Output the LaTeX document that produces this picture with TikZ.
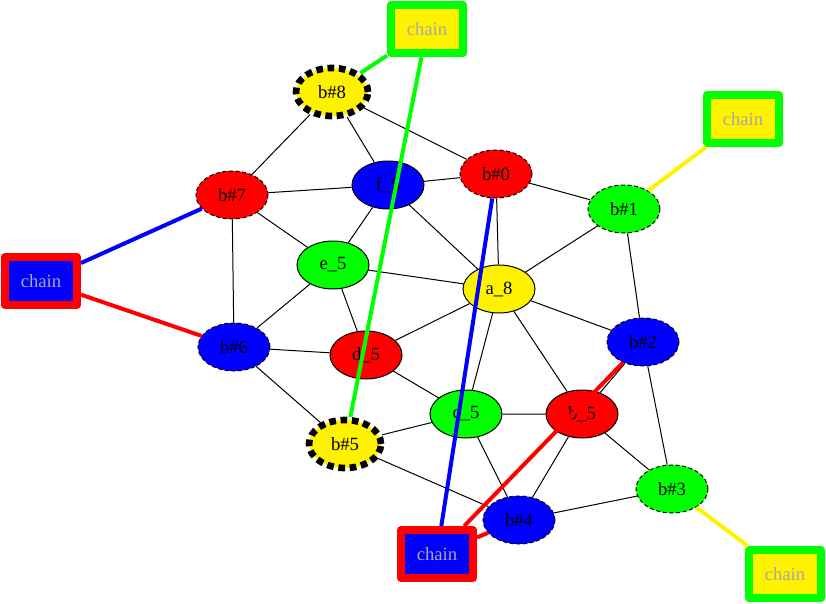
\documentclass[tikz,border=0pt]{standalone}
\usepackage{fontspec}
\setmainfont{Liberation Serif}
\usetikzlibrary{shapes.geometric}
\definecolor{chaintext}{HTML}{A8A8A8}

\begin{document}
\begin{tikzpicture}[x=0.75pt,y=-0.75pt,font=\fontsize{14}{16}\selectfont,
  vtx/.style={ellipse,draw,line width=0.75pt,minimum width=54pt,minimum height=36pt,inner sep=0pt},
  bvtx/.style={vtx,dash pattern=on 3pt off 2pt},
  bigb/.style={vtx,fill=yellow,line width=5pt,dash pattern=on 5pt off 3.5pt},
  chainbox/.style={rectangle,draw,line width=6pt,line join=round,minimum width=54pt,minimum height=36pt,inner sep=0pt,text=chaintext},
  link/.style={line width=0.75pt},
  tie/.style={line width=3pt}]
\useasboundingbox (0,0) rectangle (826,604);
% chain boxes
\node[chainbox,draw=green,fill=yellow] (chT) at (427,29) {chain};
\node[chainbox,draw=green,fill=yellow] (chR) at (743,119) {chain};
\node[chainbox,draw=red,fill=blue] (chL) at (41,281) {chain};
\node[chainbox,draw=red,fill=blue] (chB) at (437,554) {chain};
\node[chainbox,draw=green,fill=yellow] (chBR) at (785,574) {chain};
% b# vertices
\node[bigb] (bh8) at (332,92) {b\#8};
\node[bvtx,fill=red] (bh7) at (232,195) {b\#7};
\node[bvtx,fill=red] (bh0) at (496,174) {b\#0};
\node[bvtx,fill=green] (bh1) at (624,209) {b\#1};
\node[bvtx,fill=blue] (bh6) at (234,347) {b\#6};
\node[bvtx,fill=blue] (bh2) at (643,342) {b\#2};
\node[bigb] (bh5) at (345,444) {b\#5};
\node[bvtx,fill=green] (bh3) at (672,489) {b\#3};
\node[bvtx,fill=blue] (bh4) at (519,520) {b\#4};
% inner vertices
\node[vtx,fill=blue] (f5) at (388,185) {f\_5};
\node[vtx,fill=green] (e5) at (333,265) {e\_5};
\node[vtx,fill=yellow] (a8) at (499,289) {a\_8};
\node[vtx,fill=red] (d5) at (366,355) {d\_5};
\node[vtx,fill=green] (c5) at (466,414) {c\_5};
\node[vtx,fill=red] (b5) at (582,414) {b\_5};
% black edges
\draw[link] (bh8)--(bh7) (bh8)--(f5) (bh8)--(bh0)
  (bh7)--(f5) (bh7)--(e5) (bh7)--(bh6)
  (f5)--(bh0) (f5)--(e5) (f5)--(a8)
  (bh0)--(bh1) (bh0)--(a8) (bh1)--(a8) (bh1)--(bh2)
  (e5)--(a8) (e5)--(bh6) (e5)--(d5)
  (a8)--(d5) (a8)--(c5) (a8)--(b5) (a8)--(bh2)
  (bh6)--(d5) (bh6)--(bh5) (d5)--(c5)
  (c5)--(bh5) (c5)--(b5) (c5)--(bh4)
  (b5)--(bh2) (b5)--(bh3) (b5)--(bh4)
  (bh2)--(bh3) (bh3)--(bh4) (bh5)--(bh4);
% chain edges
\draw[tie,green] (chT)--(bh8) (chT)--(bh5);
\draw[tie,yellow] (chR)--(bh1) (chBR)--(bh3);
\draw[tie,blue] (chL)--(bh7) (chB)--(bh0);
\draw[tie,red] (chL)--(bh6) (chB)--(bh2) (chB)--(bh4);
\end{tikzpicture}
\end{document}
